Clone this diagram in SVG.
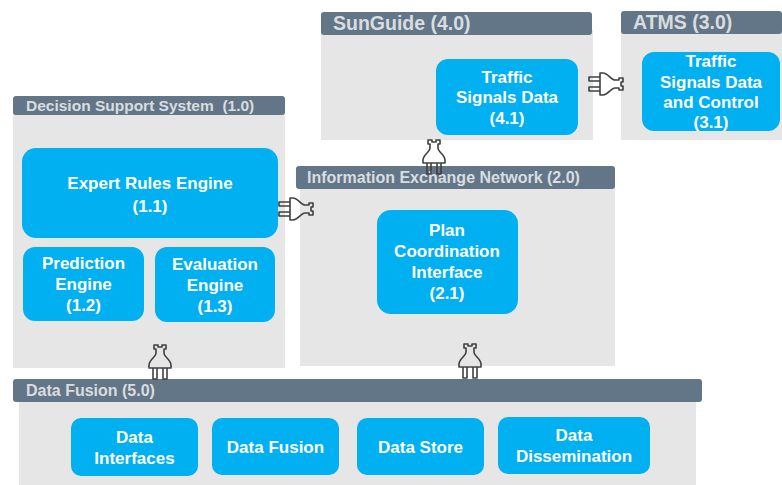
<svg xmlns="http://www.w3.org/2000/svg" width="782" height="485" viewBox="0 0 782 485">
<style>
.body{fill:#e6e6e6}
.hdr{fill:#637687}
.ht{font-family:"Liberation Sans",Arial,sans-serif;font-weight:bold;fill:#d9dde0}
.box{fill:#00b0f0}
.bt{font-family:"Liberation Sans",Arial,sans-serif;font-weight:bold;font-size:17px;fill:#ffffff;text-anchor:middle}
.plug{fill:none;stroke:#404040;stroke-width:1.6;stroke-linejoin:round}
</style>
<defs>
<g id="plugShape">
<path d="M-4,8 L-4,4 L-6,4 L-6,0 L-2,0 L-2,2 L2,2 L2,0 L6,0 L6,4 L4,4 L4,8 C4,12 11,15 11,20 L11,23 L-11,23 L-11,20 C-11,15 -4,12 -4,8 Z M-7,23 V34 H-3 V23 M3,23 V34 H7 V23"/>
</g>
</defs>
<rect width="782" height="485" fill="#ffffff"/>

<g id="sunguide">
<rect class="body" x="321" y="30" width="272" height="110"/>
<rect class="hdr" x="321" y="12" width="271" height="23" rx="3"/>
<text class="ht" x="333" y="30" font-size="19.5">SunGuide (4.0)</text>
</g>
<g id="node-4-1">
<rect class="box" x="436" y="59" width="142" height="76" rx="12"/>
<text class="bt" x="507" y="83">Traffic</text>
<text class="bt" x="507" y="103">Signals Data</text>
<text class="bt" x="507" y="124">(4.1)</text>
</g>

<g id="atms">
<rect class="body" x="621" y="30" width="161" height="110"/>
<rect class="hdr" x="621" y="11" width="161" height="23" rx="3"/>
<text class="ht" x="633" y="29" font-size="19.5">ATMS (3.0)</text>
</g>
<g id="node-3-1">
<rect class="box" x="642" y="52" width="138" height="79" rx="12"/>
<text class="bt" x="711" y="67">Traffic</text>
<text class="bt" x="711" y="88">Signals Data</text>
<text class="bt" x="711" y="108">and Control</text>
<text class="bt" x="711" y="128">(3.1)</text>
</g>

<g id="dss">
<rect class="body" x="13" y="110" width="272" height="258"/>
<rect class="hdr" x="13" y="96" width="272" height="19" rx="3"/>
<text class="ht" x="26" y="111" font-size="15.5" xml:space="preserve">Decision Support System  (1.0)</text>
</g>
<g id="node-1-1">
<rect class="box" x="22" y="148" width="256" height="90" rx="14"/>
<text class="bt" x="150" y="189">Expert Rules Engine</text>
<text class="bt" x="150" y="212">(1.1)</text>
</g>
<g id="node-1-2">
<rect class="box" x="23" y="247" width="121" height="74" rx="12"/>
<text class="bt" x="83.5" y="269">Prediction</text>
<text class="bt" x="83.5" y="290">Engine</text>
<text class="bt" x="83.5" y="311">(1.2)</text>
</g>
<g id="node-1-3">
<rect class="box" x="155" y="247" width="120" height="75" rx="12"/>
<text class="bt" x="215" y="270">Evaluation</text>
<text class="bt" x="215" y="291">Engine</text>
<text class="bt" x="215" y="312">(1.3)</text>
</g>

<g id="ien">
<rect class="body" x="300" y="185" width="315" height="181"/>
<rect class="hdr" x="296" y="166" width="319" height="23" rx="3"/>
<text class="ht" x="307" y="183" font-size="16">Information Exchange Network (2.0)</text>
</g>
<g id="node-2-1">
<rect class="box" x="377" y="210" width="141" height="104" rx="14"/>
<text class="bt" x="447" y="236">Plan</text>
<text class="bt" x="447" y="257">Coordination</text>
<text class="bt" x="447" y="278">Interface</text>
<text class="bt" x="447" y="299">(2.1)</text>
</g>

<g id="datafusion">
<rect class="body" x="19" y="398" width="677" height="87"/>
<rect class="hdr" x="13" y="379" width="689" height="23" rx="3"/>
<text class="ht" x="26" y="396" font-size="16">Data Fusion (5.0)</text>
</g>
<g id="node-5-a">
<rect class="box" x="71" y="418" width="127" height="58" rx="10"/>
<text class="bt" x="134.5" y="443">Data</text>
<text class="bt" x="134.5" y="464">Interfaces</text>
</g>
<g id="node-5-b">
<rect class="box" x="212" y="418" width="127" height="57" rx="10"/>
<text class="bt" x="275.5" y="453">Data Fusion</text>
</g>
<g id="node-5-c">
<rect class="box" x="357" y="418" width="127" height="57" rx="10"/>
<text class="bt" x="420.5" y="453">Data Store</text>
</g>
<g id="node-5-d">
<rect class="box" x="498" y="417" width="152" height="57" rx="10"/>
<text class="bt" x="574" y="441">Data</text>
<text class="bt" x="574" y="462">Dissemination</text>
</g>

<g id="connectors" class="plug">
<use href="#plugShape" transform="translate(434,140)"/>
<use href="#plugShape" transform="translate(160,345)"/>
<use href="#plugShape" transform="translate(470,344)"/>
<use href="#plugShape" transform="translate(313,209) rotate(90)"/>
<use href="#plugShape" transform="translate(623,84) rotate(90)"/>
</g>
</svg>
